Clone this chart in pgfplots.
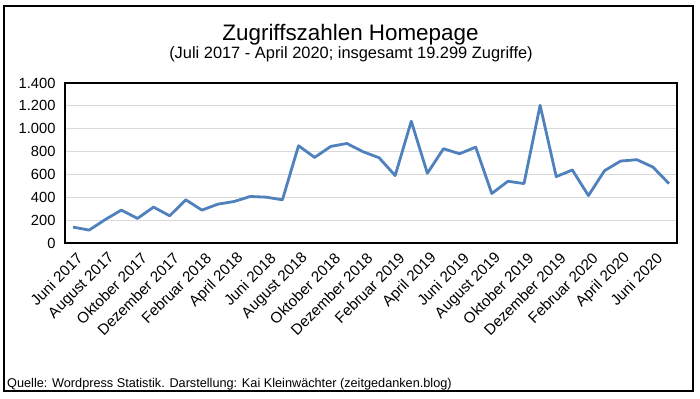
\documentclass[border=0pt]{standalone}
\usepackage{pgfplots}
\pgfplotsset{compat=1.18}
\usepackage{fontspec}
\setmainfont{Liberation Sans}
\definecolor{linieblau}{HTML}{4F81BD}
\definecolor{gitter}{HTML}{D9D9D9}
\begin{document}
\begin{tikzpicture}[x=1bp,y=1bp]
\path[fill=white] (0,0) rectangle (700,398);
\draw[line width=1.3bp,black] (4,7) rectangle (693,392);
\node[anchor=base,font=\fontsize{22.4bp}{26bp}\selectfont] at (350.5,358) {Zugriffszahlen Homepage};
\node[anchor=base,font=\fontsize{16.4bp}{19bp}\selectfont] at (351,340) {(Juli 2017 - April 2020; insgesamt 19.299 Zugriffe)};
\node[anchor=base west,font=\fontsize{12.7bp}{15bp}\selectfont,inner sep=0] at (7,11) {Quelle: Wordpress Statistik. Darstellung: Kai Kleinwächter (zeitgedanken.blog)};
\begin{axis}[
  at={(65bp,155bp)}, anchor=south west,
  scale only axis, width=612bp, height=160bp,
  xmin=-0.5, xmax=37.5, ymin=0, ymax=1400,
  ytick={0,200,...,1400},
  xtick={0,2,...,36},
  xticklabels={Juni 2017,August 2017,Oktober 2017,Dezember 2017,Februar 2018,April 2018,Juni 2018,August 2018,Oktober 2018,Dezember 2018,Februar 2019,April 2019,Juni 2019,August 2019,Oktober 2019,Dezember 2019,Februar 2020,April 2020,Juni 2020},
  major tick length=0,
  ymajorgrids, grid style={gitter, line width=1bp},
  axis line style={black, line width=1.3bp},
  /pgf/number format/assume math mode=true,
  /pgf/number format/1000 sep={.},
  yticklabel style={font=\fontsize{14.7bp}{17bp}\selectfont, xshift=-6bp},
  xticklabel style={font=\fontsize{15.2bp}{17bp}\selectfont, rotate=45, anchor=east, xshift=-1bp, yshift=-14bp},
  clip=false,
]
\addplot[linieblau, line width=2.8bp, line join=round] coordinates {
(0,139) (1,113) (2,205) (3,288) (4,215) (5,314) (6,238) (7,378) (8,288) (9,340)
(10,363) (11,407) (12,401) (13,378) (14,851) (15,749) (16,845) (17,871) (18,799) (19,746)
(20,590) (21,1066) (22,610) (23,825) (24,781) (25,839) (26,433) (27,540) (28,520) (29,1205)
(30,581) (31,639) (32,415) (33,633) (34,717) (35,729) (36,665) (37,520)
};
\end{axis}
\end{tikzpicture}
\end{document}
